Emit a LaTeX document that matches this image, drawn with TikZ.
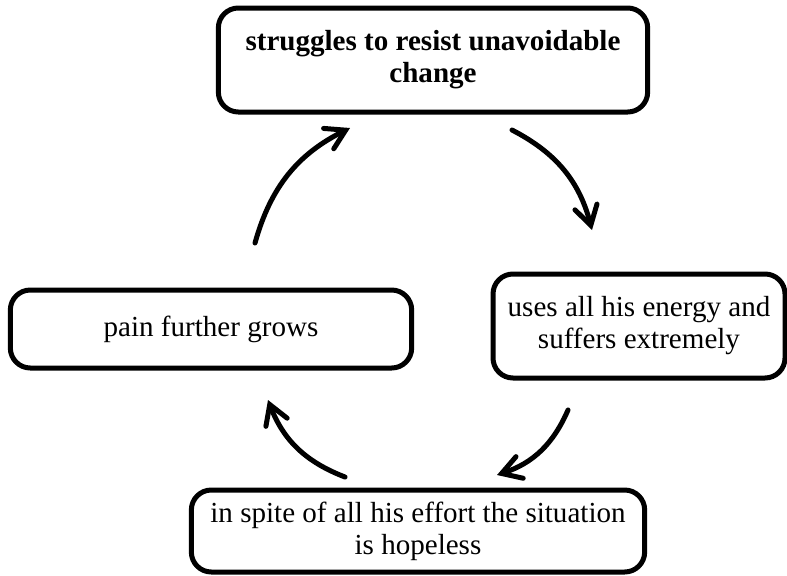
\documentclass[tikz,border=0pt]{standalone}
\usepackage{fontspec}
\setmainfont{Liberation Serif}
\usetikzlibrary{arrows.meta, positioning}

\begin{document}
\begin{tikzpicture}[x=0.75pt, y=-0.75pt,
  stage/.style={draw, line width=3.75pt, rounded corners=15pt,
    align=center, inner sep=0pt,
    font=\fontsize{21.8}{24}\selectfont},
  flow/.style={line width=3.75pt, line cap=round,
    -{Straight Barb[length=5mm, width=6mm, line cap=round]}}]
  \useasboundingbox (0,0) rectangle (787,575);

  \node[stage, minimum width=322pt, minimum height=78pt] (resist) at (433,60)
    {\textbf{struggles to resist unavoidable}\\\textbf{change}};
  \node[stage, minimum width=219pt, minimum height=78pt] (energy) at (639,326)
    {uses all his energy and\\suffers extremely};
  \node[stage, minimum width=340pt, minimum height=61.5pt] (hopeless) at (418,531)
    {in spite of all his effort the situation\\is hopeless};
  \node[stage, minimum width=301pt, minimum height=58.5pt] (pain) at (211,329)
    {pain further grows};

  \coordinate (p1) at (255,243);
  \coordinate (p2) at (350,128);
  \coordinate (p3) at (512,130);
  \coordinate (p4) at (592,230);
  \coordinate (p5) at (568,410);
  \coordinate (p6) at (497,475);
  \coordinate (p7) at (345,477);
  \coordinate (p8) at (268,400);

  \draw[flow] (p1) to[bend left=24] (p2);
  \draw[flow] (p3) to[bend left=24] (p4);
  \draw[flow] (p5) to[bend left=24] (p6);
  \draw[flow] (p7) to[bend left=24] (p8);
\end{tikzpicture}
\end{document}
